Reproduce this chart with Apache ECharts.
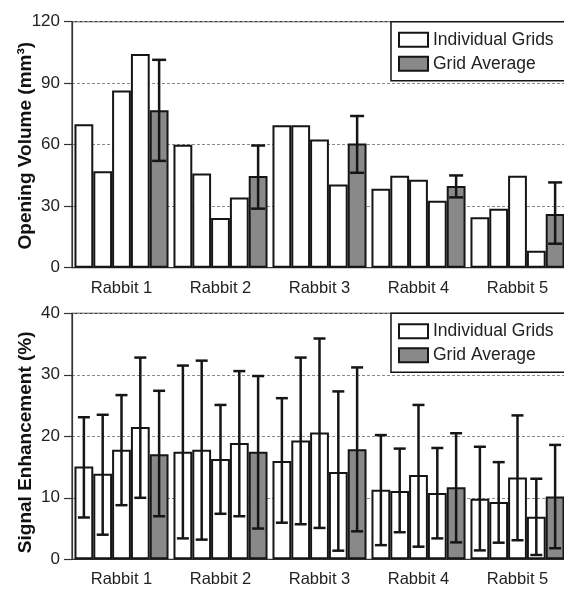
<!DOCTYPE html>
<html>
<head>
<meta charset="utf-8">
<script src="https://cdn.jsdelivr.net/npm/echarts@6/dist/echarts.min.js"></script>
<style>
html,body{margin:0;padding:0;background:#fff;}
#chart{width:564px;height:589px;}
</style>
</head>
<body>
<div id="chart"></div>
<script>
const categories = ['Rabbit 1', 'Rabbit 2', 'Rabbit 3', 'Rabbit 4', 'Rabbit 5'];
const volTicks = [0, 30, 60, 90, 120];
const sigTicks = [0, 10, 20, 30, 40];

// Opening Volume (mm3)
const volGrid1 = [70, 60, 69.5, 38.5, 24.6];
const volGrid2 = [47, 46, 69.5, 44.9, 28.7];
const volGrid3 = [86.5, 24.3, 62.5, 42.9, 44.9];
const volGrid4 = [104.3, 34.3, 40.6, 32.7, 8.3];
const volAvg = [76.8, 44.7, 60.6, 39.8, 26.2];
const volAvgLow = [52.1, 28.8, 46.3, 34.3, 11.7];
const volAvgHigh = [101.4, 59.6, 74.0, 45.0, 41.6];

// Signal Enhancement (%)
const sigGrid1 = [15.1, 17.5, 16.0, 11.3, 9.85];
const sigGrid1Low = [6.8, 3.4, 5.95, 2.3, 1.45];
const sigGrid1High = [23.1, 31.5, 26.2, 20.2, 18.3];
const sigGrid2 = [13.9, 17.8, 19.3, 11.1, 9.3];
const sigGrid2Low = [4.0, 3.2, 5.7, 4.4, 2.7];
const sigGrid2High = [23.5, 32.3, 32.8, 18.0, 15.8];
const sigGrid3 = [17.8, 16.3, 20.6, 13.7, 13.3];
const sigGrid3Low = [8.8, 7.4, 5.1, 2.05, 3.1];
const sigGrid3High = [26.7, 25.1, 35.9, 25.1, 23.4];
const sigGrid4 = [21.5, 18.9, 14.2, 10.8, 6.9];
const sigGrid4Low = [10.0, 7.0, 1.4, 3.4, 0.7];
const sigGrid4High = [32.8, 30.6, 27.3, 18.1, 13.1];
const sigAvg = [17.1, 17.5, 17.9, 11.7, 10.2];
const sigAvgLow = [7.0, 5.0, 4.55, 2.75, 1.8];
const sigAvgHigh = [27.4, 29.8, 31.2, 20.5, 18.6];

const CAT_GAP = 0.05;
const NBARS = 5;
const INK = '#151515';
const GRAY = '#898989';
const FONT = 'Liberation Sans, Arial, sans-serif';

function errRender(k, capW) {
  return function (params, api) {
    const i = api.value(0);
    const lo = api.value(1), hi = api.value(2);
    const band = api.size([1, 0])[0];
    const groupW = band * (1 - CAT_GAP);
    const bw = groupW / NBARS;
    const cx = api.coord([i, 0])[0] - groupW / 2 + bw * (k + 0.5);
    const yLo = api.coord([i, lo])[1];
    const yHi = api.coord([i, hi])[1];
    const st = { stroke: INK, lineWidth: 2.5 };
    return {
      type: 'group',
      children: [
        { type: 'line', shape: { x1: cx, y1: yLo, x2: cx, y2: yHi }, style: st },
        { type: 'line', shape: { x1: cx - capW / 2, y1: yHi, x2: cx + capW / 2, y2: yHi }, style: st },
        { type: 'line', shape: { x1: cx - capW / 2, y1: yLo, x2: cx + capW / 2, y2: yLo }, style: st }
      ]
    };
  };
}

function errSeries(low, high, k, gi, capW) {
  return {
    type: 'custom',
    name: 'err',
    xAxisIndex: gi, yAxisIndex: gi,
    renderItem: errRender(k, capW),
    encode: { x: 0, y: [1, 2] },
    data: categories.map((c, i) => [i, low[i], high[i]]),
    z: 10,
    silent: true
  };
}

function barSeries(name, data, gi, fill) {
  return {
    type: 'bar',
    name: name,
    xAxisIndex: gi, yAxisIndex: gi,
    data: data,
    barGap: '0%',
    barCategoryGap: (CAT_GAP * 100) + '%',
    itemStyle: { color: fill, borderColor: INK, borderWidth: 2 },
    animation: false
  };
}

function xAxisCfg(gi) {
  return {
    type: 'category', gridIndex: gi, data: categories,
    axisLine: { lineStyle: { color: '#333', width: 1.2 } },
    axisTick: { alignWithLabel: true, length: 5, lineStyle: { color: '#333', width: 1.2 } },
    axisLabel: { color: '#222', fontSize: 16.5, fontFamily: FONT, margin: 12 }
  };
}

function yAxisCfg(gi, ticks, name, namePad) {
  return {
    type: 'value', gridIndex: gi,
    min: ticks[0], max: ticks[ticks.length - 1],
    interval: ticks[1] - ticks[0],
    name: name, nameLocation: 'middle', nameGap: 37,
    nameMoveOverlap: false,
    nameTextStyle: { color: '#111', fontSize: 19, fontWeight: 'bold', fontFamily: FONT, padding: namePad },
    axisLine: { show: true, lineStyle: { color: '#333', width: 1.2 } },
    axisTick: { show: true, length: 8, lineStyle: { color: '#333', width: 1.2 } },
    axisLabel: { color: '#222', fontSize: 17, fontFamily: FONT, margin: 12 },
    splitLine: { show: true, lineStyle: { color: '#8a8a8a', type: [3, 2], width: 1 } }
  };
}

function legendCfg(top) {
  return {
    data: ['Individual Grids', 'Grid Average'],
    orient: 'vertical',
    left: 391, top: top,
    padding: [9, 40, 8, 7],
    itemGap: 6,
    itemWidth: 29, itemHeight: 14,
    icon: 'rect',
    backgroundColor: '#fff',
    borderColor: INK, borderWidth: 1.5, borderRadius: 0,
    itemStyle: { borderColor: INK, borderWidth: 2 },
    textStyle: { color: '#222', fontSize: 17.5, lineHeight: 15, fontFamily: FONT },
    selectedMode: false
  };
}

const chart = echarts.init(document.getElementById('chart'), null, { renderer: 'canvas' });
chart.setOption({
  animation: false,
  backgroundColor: '#fff',
  grid: [
    { left: 72, top: 21.7, width: 495, height: 246, show: true, borderColor: '#333', borderWidth: 1.2, backgroundColor: 'transparent', containLabel: false, outerBoundsMode: 'none' },
    { left: 72, top: 313.3, width: 495, height: 246, show: true, borderColor: '#333', borderWidth: 1.2, backgroundColor: 'transparent', containLabel: false, outerBoundsMode: 'none' }
  ],
  legend: [legendCfg(21.7), legendCfg(313.3)],
  xAxis: [xAxisCfg(0), xAxisCfg(1)],
  yAxis: [
    yAxisCfg(0, volTicks, 'Opening Volume (mm³)', [0, 2, 0, 0]),
    yAxisCfg(1, sigTicks, 'Signal Enhancement (%)', [0, 12, 0, 0])
  ],
  series: [
    barSeries('Individual Grids', volGrid1, 0, '#fff'),
    barSeries('Individual Grids', volGrid2, 0, '#fff'),
    barSeries('Individual Grids', volGrid3, 0, '#fff'),
    barSeries('Individual Grids', volGrid4, 0, '#fff'),
    barSeries('Grid Average', volAvg, 0, GRAY),
    errSeries(volAvgLow, volAvgHigh, 4, 0, 14),
    barSeries('Individual Grids', sigGrid1, 1, '#fff'),
    barSeries('Individual Grids', sigGrid2, 1, '#fff'),
    barSeries('Individual Grids', sigGrid3, 1, '#fff'),
    barSeries('Individual Grids', sigGrid4, 1, '#fff'),
    barSeries('Grid Average', sigAvg, 1, GRAY),
    errSeries(sigGrid1Low, sigGrid1High, 0, 1, 12),
    errSeries(sigGrid2Low, sigGrid2High, 1, 1, 12),
    errSeries(sigGrid3Low, sigGrid3High, 2, 1, 12),
    errSeries(sigGrid4Low, sigGrid4High, 3, 1, 12),
    errSeries(sigAvgLow, sigAvgHigh, 4, 1, 12)
  ]
});
</script>
</body>
</html>
